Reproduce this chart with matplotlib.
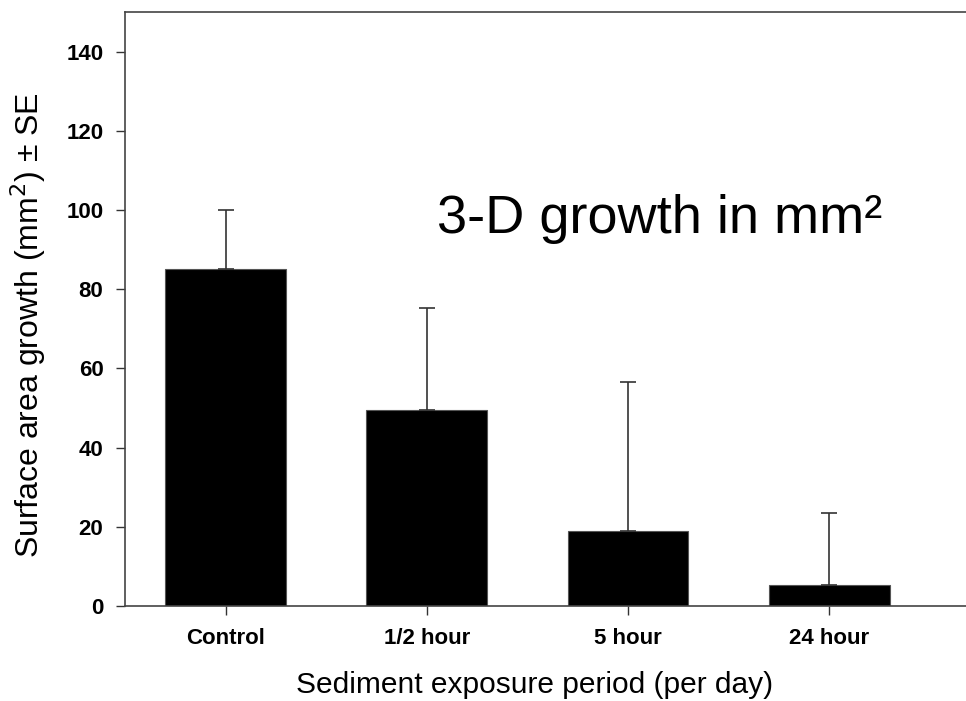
import matplotlib
matplotlib.use("Agg")
import matplotlib.pyplot as plt

plt.rcParams["font.family"] = ["Liberation Sans", "DejaVu Sans"]

groups = ["Control", "1/2 hour", "5 hour", "24 hour"]
growth = [85.0, 49.4, 19.0, 5.2]
se = [15.0, 25.8, 37.5, 18.3]
yticks = [0, 20, 40, 60, 80, 100, 120, 140]

fig = plt.figure(figsize=(9.66, 7.01), dpi=100)
ax = fig.add_axes([125 / 966, 1 - 606 / 701, 1 - 125 / 966, (606 - 12) / 701])

x = list(range(len(groups)))
ax.bar(x, growth, width=0.6, color="black", edgecolor="#555555", linewidth=0.8, zorder=2)
ax.errorbar(x, growth, yerr=[[0] * len(se), se], fmt="none", ecolor="#333333",
            elinewidth=1.2, capsize=6, capthick=1.2, zorder=3)

ax.set_xlim(-0.5, 3.68)
ax.set_ylim(0, 150)
ax.set_xticks(x)
ax.set_xticklabels(groups, fontsize=16, fontweight="bold")
ax.set_yticks(yticks)
ax.set_yticklabels([str(v) for v in yticks], fontsize=16, fontweight="bold")
ax.tick_params(axis="both", direction="out", length=6.5, width=1, color="#333333")
ax.tick_params(axis="y", pad=9)
ax.tick_params(axis="x", pad=9)

for side in ["left", "top", "bottom"]:
    ax.spines[side].set_color("#444444")
    ax.spines[side].set_linewidth(1.2)
ax.spines["right"].set_visible(False)

ax.set_xlabel("Sediment exposure period (per day)", fontsize=21.5)
ax.xaxis.set_label_coords(0.4875, -0.109)
ax.set_ylabel("Surface area growth (mm$^2$) \u00b1 SE", fontsize=23)
ax.yaxis.set_label_coords(-0.091, 0.473)

ax.text(0.371, 0.628, "3-D growth in mm\u00b2", transform=ax.transAxes,
        fontsize=39, va="baseline", ha="left")

fig.savefig("out.png", dpi=100)
